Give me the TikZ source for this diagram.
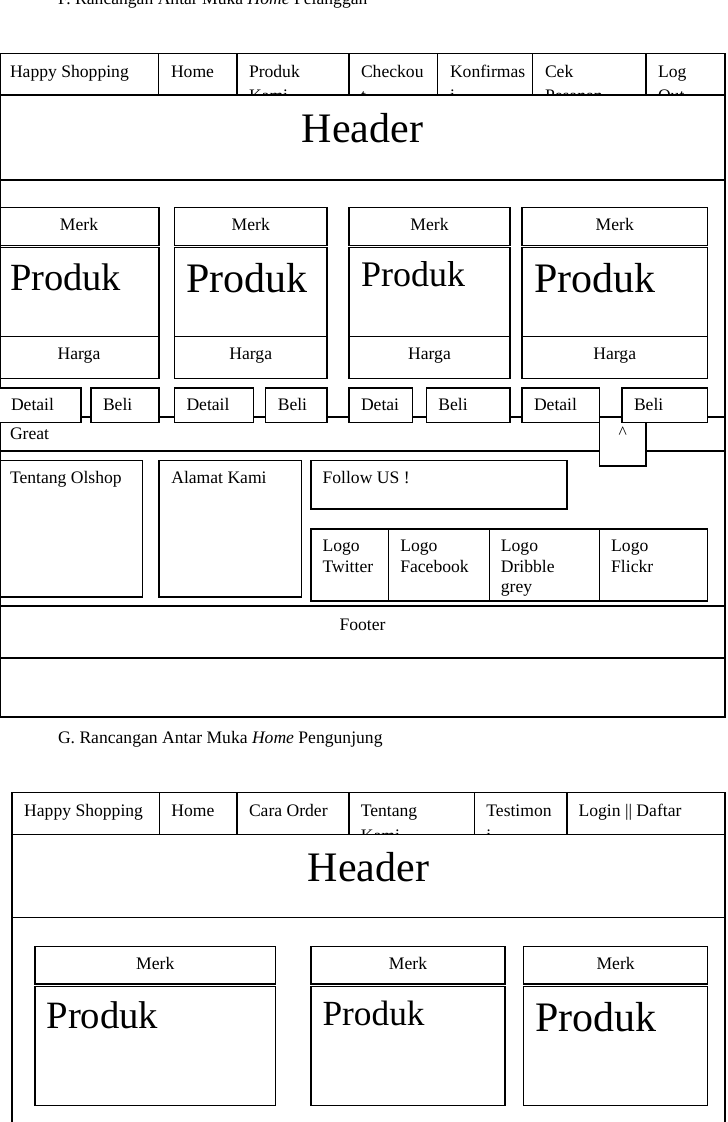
\documentclass[tikz,border=0pt]{standalone}
\usepackage{fontspec}
\setmainfont{Liberation Serif}
\begin{document}
\begin{tikzpicture}[x=1pt,y=-1pt,line width=1.1pt]
\tikzstyle{every node}=[inner sep=0pt, outer sep=0pt, font=\fontsize{17.6}{21}\selectfont]
\tikzstyle{lbl}=[anchor=base west]
\tikzstyle{ctr}=[anchor=base]
\tikzstyle{wbox}=[draw, fill=white]
\tikzstyle{big}=[font=\fontsize{42}{50}\selectfont]
\useasboundingbox (0,0) rectangle (728,1122);

% F. home pelanggan
\node (titleF) [lbl] at (58,4.5) {F. Rancangan Antar Muka \textit{Home} Pelanggan};
\draw (0.5,53.5) rectangle (725,717);
\foreach \x/\t [count=\i] in {10/Happy Shopping, 171/Home, 249/Produk, 361/Checkou, 450/Konfirmas, 545/Cek, 658/Log}
  \node (navF\i) [lbl] at (\x,77) {\t};
\foreach \x/\t [count=\i] in {249/Kami, 361/t, 450/i, 545/Pesanan, 658/Out}
  \node (navFb\i) [lbl] at (\x,101.5) {\t};
\foreach \x in {158.5,237,349,437.5,532.5,646}
  \draw (\x,53.5) -- (\x,95);
\draw[wbox] (0.5,95) rectangle (725,180);
\node (headF) [ctr,big] at (362.5,142) {Header};

% produk
\foreach \a/\b [count=\i] in {-1/159, 174.5/327, 349/510, 522/707.5} {
  \draw (\a,207.5) rectangle (\b,245.5);
  \draw (\a,247.5) rectangle (\b,378.5);
  \draw (\a,336.5) -- (\b,336.5);
  \node (merkF\i) [ctr] at ({(\a+\b)/2},230) {Merk};
  \node (hargaF\i) [ctr] at ({(\a+\b)/2},359) {Harga};
}
\node (prodF1) [lbl,font=\fontsize{38.5}{40}\selectfont] at (10,290) {Produk};
\node (prodF2) [lbl,font=\fontsize{42}{44}\selectfont] at (186,292.7) {Produk};
\node (prodF3) [lbl,font=\fontsize{36}{40}\selectfont] at (361,286.7) {Produk};
\node (prodF4) [lbl,font=\fontsize{42}{44}\selectfont] at (534.4,292.7) {Produk};

% great
\draw (0.5,417) -- (725,417);
\draw (0.5,451) -- (725,451);
\node (great) [lbl] at (10,439) {Great};
\draw[wbox] (599.5,417) rectangle (646,466);
\node (up) [ctr] at (622.8,438.5) {\textasciicircum};
\foreach \a/\b/\t [count=\i] in {-1/81/Detail, 91/159/Beli, 174.5/253.7/Detail, 265.8/327/Beli, 349/412.4/Detai, 426.4/510/Beli, 522/599.6/Detail, 622/707.5/Beli} {
  \draw[wbox] (\a,388) rectangle (\b,422.3);
  \node (btnF\i) [lbl] at (\a+12,410.7) {\t};
}

% footer
\draw (-1,460.5) rectangle (142.5,597);
\node (olshop) [lbl] at (10,483.3) {Tentang Olshop};
\draw (159,460.5) rectangle (301.5,597);
\node (alamat) [lbl] at (171.3,483.3) {Alamat Kami};
\draw (311,460.5) rectangle (567,509);
\node (follow) [lbl] at (322.6,483.3) {Follow US !};
\draw (311,529) rectangle (707.5,601);
\foreach \x in {388.7,489.7,599.6}
  \draw (\x,529) -- (\x,601);
\foreach \x/\t [count=\i] in {322.6/Twitter, 400.3/Facebook, 500.9/Dribble, 611.2/Flickr} {
  \node (logoA\i) [lbl] at (\x,551.7) {Logo};
  \node (logoB\i) [lbl] at (\x,572.3) {\t};
}
\node (grey) [lbl] at (500.9,592.5) {grey};
\draw (0.5,606) -- (725,606);
\draw (0.5,658) -- (725,658);
\node (footer) [ctr] at (362.5,630) {Footer};

% G. home pengunjung
\node (titleG) [lbl] at (58,743.3) {G. Rancangan Antar Muka \textit{Home} Pengunjung};
\draw (12,1130) -- (12,792.7) -- (725,792.7) -- (725,1130);
\foreach \x/\t [count=\i] in {24.2/Happy Shopping, 171.3/Home, 249/Cara Order, 360.8/Tentang, 486.4/Testimon, 578.6/Login || Daftar}
  \node (navG\i) [lbl] at (\x,816.7) {\t};
\foreach \x/\t [count=\i] in {360.8/Kami, 486.4/i}
  \node (navGb\i) [lbl] at (\x,841) {\t};
\foreach \x in {159.2,237,349,474.8,567}
  \draw (\x,792.7) -- (\x,834.3);
\draw[wbox] (12,834.3) rectangle (725,917.3);
\node (headG) [ctr,big] at (368.5,881) {Header};
\foreach \a/\b [count=\i] in {35/275.6, 311/505, 523.7/707.6} {
  \draw (\a,946.7) rectangle (\b,984);
  \draw (\a,986.7) rectangle (\b,1105.7);
  \node (merkG\i) [ctr] at ({(\a+\b)/2},969.3) {Merk};
}
\node (prodG1) [lbl,font=\fontsize{38.7}{40}\selectfont] at (46.5,1028.3) {Produk};
\node (prodG2) [lbl,font=\fontsize{35.3}{40}\selectfont] at (322.6,1025.7) {Produk};
\node (prodG3) [lbl,font=\fontsize{42}{44}\selectfont] at (535.3,1031) {Produk};
\end{tikzpicture}
\end{document}
